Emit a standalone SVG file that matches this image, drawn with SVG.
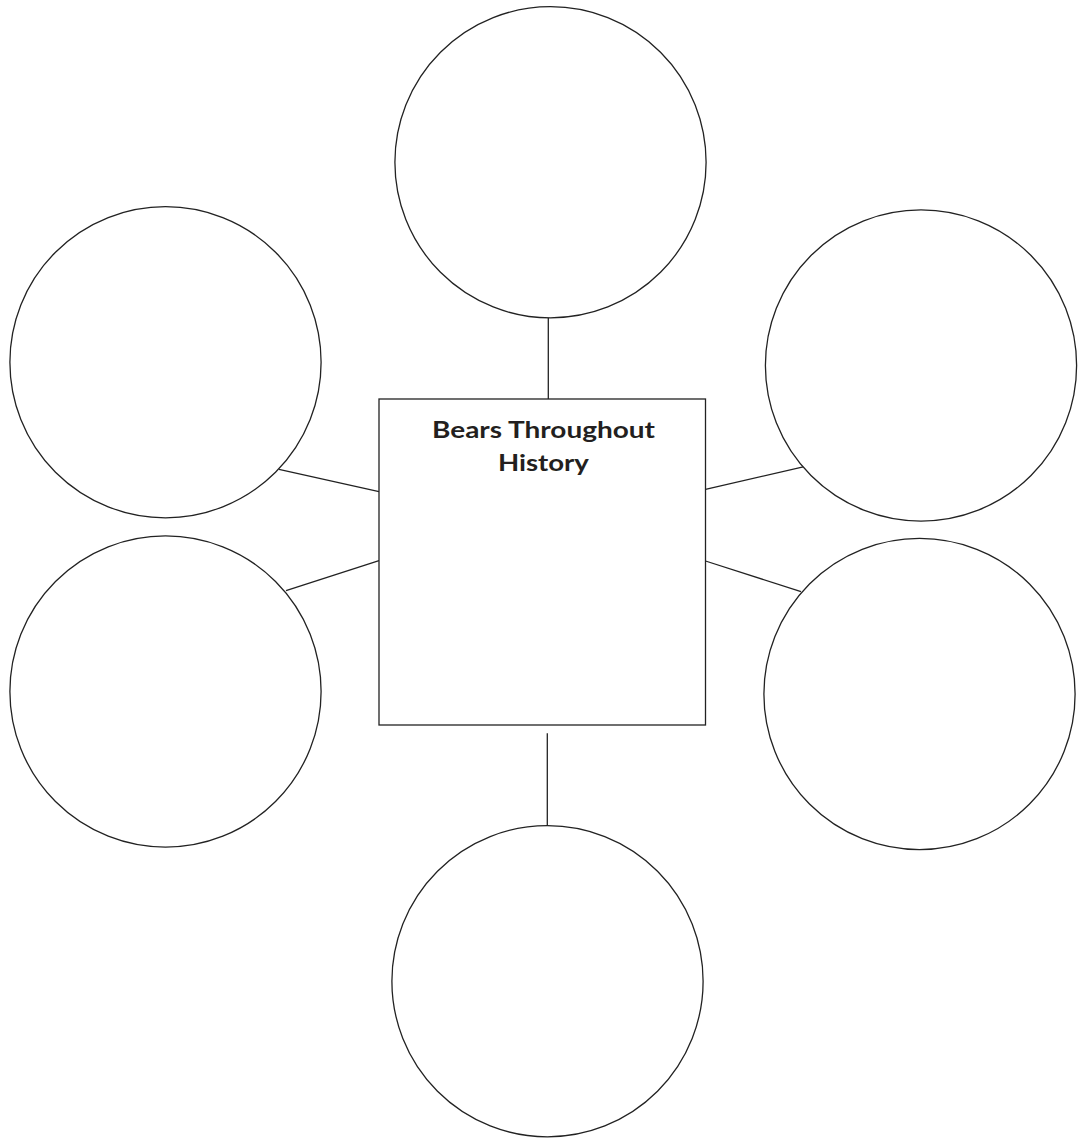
<svg xmlns="http://www.w3.org/2000/svg" width="1078" height="1138" viewBox="0 0 1078 1138">
<style>
.c{fill:#fff;stroke:#222;stroke-width:1.3}
.l{stroke:#222;stroke-width:1.3;fill:none}
.t{font-family:Lato,"Liberation Sans",sans-serif;font-weight:bold;font-size:23px;fill:#231f20;text-anchor:middle}
</style>
<rect width="1078" height="1138" fill="#fff"/>
<g id="connectors">
<line class="l" x1="548.3" y1="318" x2="548.3" y2="399"/>
<line class="l" x1="279" y1="469.3" x2="379" y2="491.7"/>
<line class="l" x1="286" y1="590.7" x2="379" y2="560.7"/>
<line class="l" x1="705.5" y1="489.3" x2="804.3" y2="466.7"/>
<line class="l" x1="705.5" y1="561" x2="801" y2="591.7"/>
<line class="l" x1="547.3" y1="733.3" x2="547.3" y2="825.7"/>
</g>
<g id="circle-top"><circle class="c" cx="550.5" cy="162.3" r="155.6"/></g>
<g id="circle-upper-left"><circle class="c" cx="165.5" cy="362.2" r="155.6"/></g>
<g id="circle-upper-right"><circle class="c" cx="921" cy="365.5" r="155.6"/></g>
<g id="circle-lower-left"><circle class="c" cx="165.5" cy="691.5" r="155.6"/></g>
<g id="circle-lower-right"><circle class="c" cx="919.5" cy="694" r="155.6"/></g>
<g id="circle-bottom"><circle class="c" cx="547.5" cy="981.2" r="155.6"/></g>
<g id="center">
<rect class="c" x="379" y="399" width="326.5" height="326"/>
<text class="t" x="543.5" y="438.3" textLength="223" lengthAdjust="spacingAndGlyphs">Bears Throughout</text>
<text class="t" x="543.4" y="470.7" textLength="91" lengthAdjust="spacingAndGlyphs">History</text>
</g>
</svg>
